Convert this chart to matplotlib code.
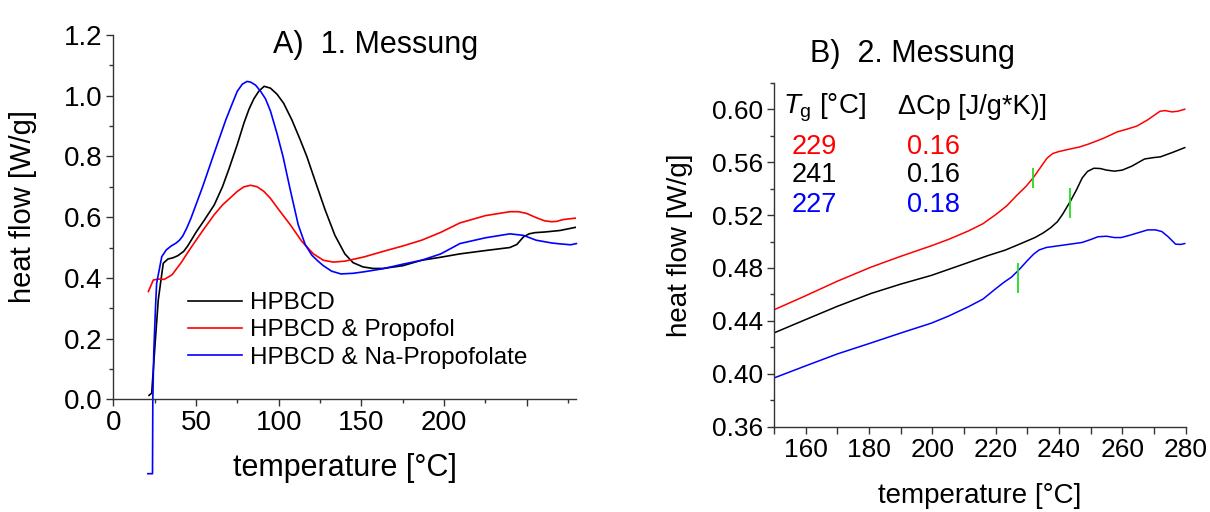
import matplotlib
matplotlib.use("Agg")
import matplotlib.pyplot as plt
from matplotlib.ticker import FixedLocator, MultipleLocator, FormatStrFormatter

plt.rcParams['font.family'] = ['Liberation Sans', 'DejaVu Sans']
plt.rcParams['mathtext.fontset'] = 'custom'
plt.rcParams['mathtext.rm'] = 'Liberation Sans'
plt.rcParams['mathtext.it'] = 'Liberation Sans:italic'

W, H = 1210, 512

# ---------------- Panel A data (1. Messung) ----------------
a_black_x = [21.6, 23.2, 25.5, 27.2, 30.2, 33, 36, 39, 42.5, 45, 50, 55, 61, 66, 70, 75, 79,
             82, 85, 88, 91.2, 95, 99, 103, 108, 113, 117, 122, 128, 134, 140, 145, 151,
             157, 163, 175, 186.4, 198, 209.6, 225, 239.8, 244, 248, 251.4, 255, 260.7,
             270, 280]
a_black_y = [0.013, 0.02, 0.2, 0.328, 0.448, 0.462, 0.466, 0.473, 0.487, 0.505, 0.55, 0.59,
             0.64, 0.70, 0.76, 0.84, 0.91, 0.955, 0.99, 1.015, 1.031, 1.025, 1.005, 0.975,
             0.92, 0.855, 0.80, 0.72, 0.625, 0.54, 0.479, 0.45, 0.436, 0.431, 0.431, 0.44,
             0.458, 0.468, 0.479, 0.49, 0.500, 0.51, 0.535, 0.545, 0.549, 0.551, 0.556, 0.567]

a_red_x = [21.2, 24.2, 27.2, 30.8, 35.5, 41, 47, 54, 61, 66, 70, 75, 79, 83, 87, 91, 95,
           100, 107, 114, 121, 127, 133, 140, 151.6, 165, 175, 186.4, 198, 209.6, 225,
           239.8, 245, 250, 255, 260.7, 265, 268, 272, 275, 280]
a_red_y = [0.355, 0.393, 0.396, 0.395, 0.41, 0.45, 0.50, 0.555, 0.608, 0.64, 0.66, 0.685,
           0.70, 0.705, 0.70, 0.685, 0.662, 0.625, 0.575, 0.52, 0.479, 0.458, 0.452, 0.455,
           0.469, 0.49, 0.505, 0.524, 0.55, 0.581, 0.605, 0.618, 0.618, 0.612, 0.60, 0.588,
           0.585, 0.586, 0.592, 0.594, 0.597]

a_blue_x = [20.9, 23.7, 23.9, 24.5, 25.5, 26.2, 29.3, 32, 35, 37.8, 40, 42, 44.5, 47, 54,
            61, 68, 72, 75, 78, 80.8, 83, 86, 89, 92, 95, 99, 102.6, 107, 111.8, 116, 120,
            123.4, 127, 132, 137.6, 145, 151.6, 163, 175, 186.4, 198, 209.6, 225, 239.8,
            248, 255.7, 265, 270, 276.6, 280]
a_blue_y = [-0.245, -0.245, 0.0, 0.16, 0.30, 0.382, 0.47, 0.492, 0.505, 0.514, 0.524, 0.538,
            0.565, 0.597, 0.70, 0.811, 0.92, 0.975, 1.015, 1.038, 1.047, 1.045, 1.035, 1.015,
            0.99, 0.95, 0.875, 0.80, 0.69, 0.575, 0.51, 0.475, 0.457, 0.44, 0.422, 0.413,
            0.415, 0.42, 0.43, 0.445, 0.458, 0.479, 0.513, 0.532, 0.545, 0.54, 0.524, 0.515,
            0.512, 0.509, 0.513]

a_labels = ['HPBCD', 'HPBCD & Propofol', 'HPBCD & Na-Propofolate']
a_xticks = [0, 50, 100, 150, 200, 250]
a_xticklabels = ['0', '50', '100', '150', '200', '']

# ---------------- Panel B data (2. Messung) ----------------
b_red_x = [150.4, 160, 170, 180.6, 190, 199.7, 205, 211.4, 216, 220.1, 223.5, 226.9, 229.5,
           231.8, 234, 236.2, 238, 239.9, 243.6, 246.5, 249.7, 254, 258.4, 261.5, 264.6,
           268, 271.9, 273.5, 275.7, 277.5, 279.7]
b_red_y = [0.4488, 0.459, 0.470, 0.4806, 0.4888, 0.4968, 0.5015, 0.508, 0.5135, 0.5205,
           0.527, 0.5355, 0.5415, 0.548, 0.5555, 0.563, 0.5665, 0.568, 0.570, 0.5715, 0.574,
           0.578, 0.5829, 0.585, 0.5873, 0.592, 0.5985, 0.599, 0.598, 0.5985, 0.600]

b_black_x = [150.4, 160, 170, 180.6, 190, 199.7, 210, 217.6, 223, 227.5, 232.4, 235, 237.4,
             239.5, 241.1, 243.6, 245.5, 247.3, 249, 251, 253, 255, 257.5, 260, 263, 267,
             270, 272, 276, 279.7]
b_black_y = [0.4313, 0.441, 0.451, 0.4607, 0.4678, 0.4744, 0.483, 0.4894, 0.4935, 0.498,
             0.503, 0.5065, 0.5105, 0.515, 0.5205, 0.5305, 0.539, 0.548, 0.553, 0.5554,
             0.5552, 0.554, 0.5532, 0.554, 0.557, 0.5624, 0.5635, 0.564, 0.5675, 0.571]

b_blue_x = [150.4, 160, 170, 180.6, 190, 199.7, 205, 211.4, 216, 220.1, 222.8, 225, 227.5,
            230, 232, 233.7, 236, 239.9, 243.5, 247.3, 250, 252.3, 255, 257.5, 259.6, 262,
            265.5, 268, 270.5, 272.5, 274.5, 276.8, 278.5, 279.7]
b_blue_y = [0.3972, 0.406, 0.415, 0.4233, 0.4308, 0.4383, 0.4435, 0.4507, 0.4565, 0.4645,
            0.4695, 0.4731, 0.479, 0.4856, 0.4905, 0.4936, 0.4955, 0.4968, 0.498, 0.4993,
            0.5015, 0.5036, 0.504, 0.503, 0.503, 0.5045, 0.507, 0.5088, 0.5088, 0.5075,
            0.5035, 0.498, 0.4978, 0.4985]

tg_x = [231.7, 243.6, 227.2]
tg_ylo = [0.5406, 0.5181, 0.4614]
tg_yhi = [0.5555, 0.5406, 0.4839]

tg_values = ['229', '241', '227']
dcp_values = ['0.16', '0.16', '0.18']
series_colors = ['#ff0000', '#000000', '#0000ff']

fig = plt.figure(figsize=(W / 100, H / 100), dpi=100)


def fx(px):
    return px / W


def fy(py):
    return 1 - py / H


# ---------------- Axes A ----------------
axA = fig.add_axes([fx(113.3), fy(399.3), (576.4 - 113.3) / W, (399.3 - 35) / H])
lw = 1.2
axA.plot(a_black_x, a_black_y, color='black', lw=lw, label=a_labels[0])
axA.plot(a_red_x, a_red_y, color='#ff0000', lw=lw, label=a_labels[1])
axA.plot(a_blue_x, a_blue_y, color='#0000ff', lw=lw, label=a_labels[2], clip_on=False)
axA.set_xlim(0, 280)
axA.set_ylim(0, 1.2)
for s in ['top', 'right']:
    axA.spines[s].set_visible(False)
for s in ['left', 'bottom']:
    axA.spines[s].set_color('#333333')
    axA.spines[s].set_linewidth(1.0)
axA.xaxis.set_major_locator(FixedLocator(a_xticks))
axA.set_xticklabels(a_xticklabels)
axA.xaxis.set_minor_locator(MultipleLocator(25))
axA.yaxis.set_major_locator(MultipleLocator(0.2))
axA.yaxis.set_minor_locator(MultipleLocator(0.1))
axA.yaxis.set_major_formatter(FormatStrFormatter('%.1f'))
axA.tick_params(which='major', length=5, width=1.0, labelsize=20, pad=3, color='#333333')
axA.tick_params(which='minor', length=3, width=1.0, color='#333333')
axA.set_xlabel('temperature [°C]', fontsize=22)
axA.xaxis.set_label_coords(0.5, -0.147)
axA.set_ylabel('heat flow [W/g]', fontsize=21)
axA.yaxis.set_label_coords(-0.164, 0.529)
axA.legend(loc='upper left', frameon=False, fontsize=17.5,
           bbox_to_anchor=(fx(188.3), fy(292)), bbox_transform=fig.transFigure,
           handlelength=2.2, handletextpad=0.34, labelspacing=0.22,
           borderpad=0, borderaxespad=0)
fig.text(fx(376), fy(53.3), 'A)  1. Messung', fontsize=22, ha='center', va='baseline')

# ---------------- Axes B ----------------
axB = fig.add_axes([fx(774), fy(426.7), (1185.7 - 774) / W, (426.7 - 82.8) / H])
lwb = 1.1
axB.plot(b_red_x, b_red_y, color='#ff0000', lw=lwb)
axB.plot(b_black_x, b_black_y, color='black', lw=lwb)
axB.plot(b_blue_x, b_blue_y, color='#0000ff', lw=lwb)
axB.vlines(tg_x, tg_ylo, tg_yhi, color='#22dd22', lw=1.3)
axB.set_xlim(150, 280)
axB.set_ylim(0.36, 0.62)
for s in ['top', 'right']:
    axB.spines[s].set_visible(False)
for s in ['left', 'bottom']:
    axB.spines[s].set_color('#333333')
    axB.spines[s].set_linewidth(1.0)
axB.set_xticks([160, 180, 200, 220, 240, 260, 280])
axB.set_xticks([150, 170, 190, 210, 230, 250, 270], minor=True)
axB.set_yticks([0.36, 0.40, 0.44, 0.48, 0.52, 0.56, 0.60])
axB.set_yticks([0.38, 0.42, 0.46, 0.50, 0.54, 0.58, 0.62], minor=True)
axB.yaxis.set_major_formatter(FormatStrFormatter('%.2f'))
axB.tick_params(which='major', length=5, width=1.0, labelsize=19, pad=3, color='#333333')
axB.tick_params(which='minor', length=3, width=1.0, color='#333333')
axB.tick_params(axis='x', which='minor', length=5)
axB.set_xlabel('temperature [°C]', fontsize=20)
axB.xaxis.set_label_coords(0.5, -0.164)
axB.set_ylabel('heat flow [W/g]', fontsize=20)
axB.yaxis.set_label_coords(-0.196, 0.528)
fig.text(fx(912), fy(61.7), 'B)  2. Messung', fontsize=22, ha='center', va='baseline')

fig.text(fx(782.7), fy(114), r'$T_\mathrm{g}$ [°C]', fontsize=20, ha='left', va='baseline')
fig.text(fx(897.7), fy(114), 'ΔCp [J/g*K)]', fontsize=19.5, ha='left', va='baseline')
row_baselines = [154.3, 182.3, 211.7]
for tg, dcp, c, yb in zip(tg_values, dcp_values, series_colors, row_baselines):
    fig.text(fx(792), fy(yb), tg, fontsize=19.5, color=c, ha='left', va='baseline')
    fig.text(fx(906.7), fy(yb), dcp, fontsize=19.5, color=c, ha='left', va='baseline')

fig.savefig('out.png', dpi=100)
